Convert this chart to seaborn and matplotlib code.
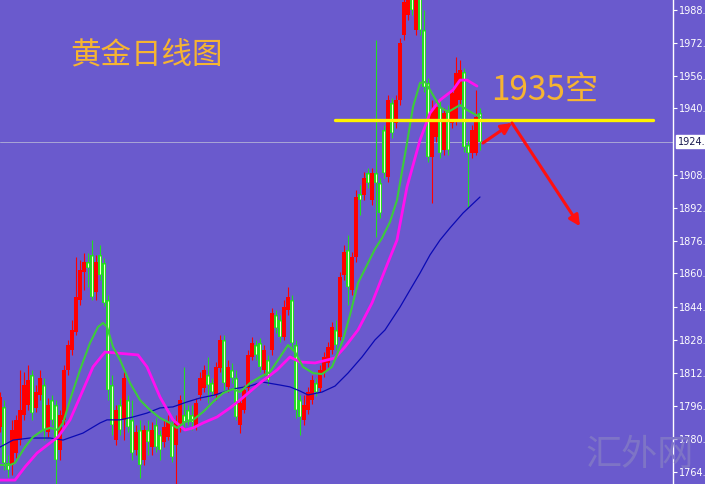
import matplotlib
matplotlib.use('Agg')
import matplotlib.pyplot as plt
import seaborn as sns
import numpy as np

# daily gold candles, oldest to newest
opens = [1786.0, 1795.6, 1768.5, 1767.5, 1773.3, 1779.6, 1791.8, 1796.6, 1811.2, 1795.2,
         1801.5, 1806.3, 1783.5, 1799.0, 1796.6, 1774.8, 1789.4, 1813.6, 1823.3, 1832.0,
         1847.5, 1861.1, 1866.0, 1869.4, 1851.4, 1869.4, 1865.5, 1847.5, 1806.3, 1779.6,
         1796.6, 1789.4, 1799.0, 1789.4, 1774.8, 1784.5, 1769.9, 1784.5, 1776.2, 1786.9,
         1782.1, 1778.7, 1781.1, 1786.9, 1777.2, 1786.0, 1791.8, 1794.2, 1791.8, 1786.0,
         1801.5, 1804.9, 1811.2, 1807.3, 1801.5, 1814.6, 1828.2, 1805.4, 1813.6, 1809.7,
         1786.9, 1794.2, 1804.9, 1819.9, 1825.7, 1826.7, 1813.6, 1818.5, 1823.3, 1840.3,
         1837.9, 1829.6, 1842.7, 1847.5, 1825.7, 1799.0, 1789.4, 1794.2, 1799.0, 1807.3,
         1804.9, 1812.1, 1817.0, 1823.3, 1833.0, 1829.6, 1859.7, 1871.8, 1852.4, 1868.4,
         1898.9, 1898.5, 1909.1, 1896.0, 1909.1, 1904.3, 1930.0, 1907.2, 1943.1, 1933.4,
         1944.5, 1976.1, 1985.8, 2000.3, 1978.5, 1995.5, 1978.5, 1952.8, 1916.9, 1926.6,
         1941.2, 1920.3, 1939.7, 1933.4, 1934.8, 1944.5, 1958.1, 1922.7, 1918.8, 1918.8,
         1938.2]
closes = [1800.5, 1768.5, 1765.1, 1784.5, 1789.4, 1794.2, 1806.3, 1808.7, 1792.7, 1802.9,
          1809.7, 1784.5, 1796.6, 1789.4, 1769.9, 1791.8, 1813.6, 1825.7, 1833.0, 1849.0,
          1862.1, 1866.0, 1863.0, 1849.0, 1866.0, 1859.7, 1846.1, 1803.9, 1786.9, 1794.2,
          1784.5, 1809.7, 1786.0, 1773.3, 1783.5, 1767.5, 1784.5, 1778.7, 1784.5, 1776.2,
          1774.8, 1786.0, 1788.4, 1771.4, 1787.9, 1799.0, 1788.4, 1789.4, 1788.4, 1797.6,
          1809.7, 1813.6, 1806.3, 1802.9, 1815.1, 1828.2, 1807.3, 1815.1, 1809.7, 1790.8,
          1797.6, 1803.9, 1820.9, 1826.7, 1820.9, 1815.1, 1823.3, 1808.7, 1841.2, 1834.0,
          1829.6, 1844.1, 1849.0, 1826.7, 1794.2, 1790.8, 1796.6, 1802.9, 1808.7, 1802.9,
          1813.6, 1819.9, 1824.8, 1834.5, 1825.7, 1858.7, 1870.8, 1853.8, 1868.4, 1897.5,
          1896.0, 1906.7, 1904.3, 1909.1, 1904.3, 1889.7, 1909.1, 1944.5, 1928.6, 1944.5,
          1972.2, 1992.1, 2000.3, 1988.2, 1995.5, 1978.5, 1950.8, 1916.9, 1939.7, 1941.2,
          1918.8, 1938.2, 1920.3, 1947.9, 1957.6, 1959.1, 1921.8, 1918.8, 1930.0, 1936.3,
          1924.3]
highs = [1802.9, 1799.0, 1772.4, 1789.4, 1791.8, 1813.6, 1812.6, 1816.0, 1813.6, 1806.3,
         1813.6, 1809.7, 1800.0, 1801.5, 1799.0, 1794.2, 1816.0, 1828.2, 1837.9, 1868.4,
         1866.9, 1870.3, 1870.3, 1876.6, 1869.4, 1874.2, 1867.9, 1849.9, 1811.2, 1796.6,
         1800.0, 1812.6, 1801.5, 1799.0, 1786.9, 1789.4, 1786.9, 1789.4, 1788.4, 1790.3,
         1784.5, 1789.4, 1791.8, 1789.4, 1791.8, 1801.5, 1815.1, 1796.6, 1796.6, 1800.0,
         1812.6, 1816.0, 1819.9, 1809.7, 1817.5, 1830.6, 1830.6, 1818.5, 1817.0, 1813.6,
         1799.0, 1806.3, 1823.3, 1829.6, 1828.2, 1829.1, 1825.7, 1820.9, 1843.6, 1842.7,
         1840.3, 1847.5, 1853.8, 1849.9, 1828.2, 1801.5, 1801.5, 1805.4, 1811.2, 1809.7,
         1816.0, 1822.3, 1827.2, 1836.9, 1837.9, 1861.1, 1874.2, 1879.0, 1870.8, 1900.9,
         1903.3, 1909.6, 1911.5, 1911.5, 1973.6, 1906.7, 1932.4, 1947.0, 1945.5, 1947.0,
         1974.6, 2000.3, 2005.2, 2005.2, 2002.8, 2002.8, 1988.2, 1955.2, 1944.5, 1944.5,
         1944.5, 1940.7, 1942.1, 1950.4, 1965.4, 1964.0, 1960.1, 1925.1, 1932.4, 1949.4,
         1940.7]
lows = [1783.5, 1765.1, 1761.7, 1762.7, 1770.9, 1777.2, 1789.4, 1794.2, 1789.4, 1793.2,
        1799.0, 1779.6, 1781.1, 1786.9, 1758.3, 1769.9, 1786.9, 1811.2, 1820.9, 1830.6,
        1845.1, 1852.4, 1853.8, 1847.5, 1847.5, 1857.2, 1844.6, 1799.0, 1782.1, 1777.2,
        1782.1, 1779.6, 1783.5, 1769.9, 1772.4, 1761.2, 1767.5, 1772.4, 1772.4, 1773.8,
        1769.9, 1776.2, 1779.6, 1769.0, 1758.3, 1783.5, 1786.0, 1786.9, 1784.5, 1784.5,
        1799.0, 1802.9, 1797.6, 1800.5, 1799.0, 1812.6, 1803.9, 1802.9, 1807.3, 1789.4,
        1783.0, 1792.7, 1802.9, 1818.5, 1818.5, 1812.6, 1811.2, 1806.3, 1820.9, 1831.6,
        1827.2, 1828.2, 1840.3, 1824.8, 1790.3, 1782.1, 1786.9, 1792.3, 1797.1, 1801.0,
        1802.9, 1810.2, 1815.1, 1821.4, 1823.3, 1828.2, 1857.2, 1845.1, 1849.9, 1866.0,
        1888.8, 1896.0, 1901.9, 1893.6, 1878.1, 1887.3, 1906.7, 1904.8, 1926.1, 1931.0,
        1942.1, 1973.6, 1983.3, 1985.8, 1976.1, 1976.1, 1948.4, 1914.5, 1894.6, 1924.2,
        1916.4, 1917.9, 1917.9, 1931.0, 1932.4, 1942.1, 1919.3, 1892.7, 1916.4, 1917.9,
        1920.3]

# moving averages (bar index, price)
fast_idx = [0, 2.5, 3.75, 6.25, 8.25, 10.75, 12.5, 14.5, 15.75, 17.5, 20, 22.5, 24.5, 25.75,
            26.75, 28.25, 30, 32.5, 35, 37.5, 40, 42.5, 44.25, 46.25, 48.25, 50.75, 53.25,
            55.75, 58.25, 60, 62.5, 65, 67.5, 70, 72, 73.75, 75.75, 78.25, 80.5, 83, 85.75,
            87.5, 89.5, 91.75, 93.75, 95.5, 97.5, 99.25, 101.75, 103.25, 105, 106.25, 107.5,
            110, 112, 115, 116.75, 120]
fast_ma = [1767.5, 1767.5, 1768.5, 1776.2, 1781.1, 1784.5, 1785.5, 1784.5, 1787.9, 1799.0,
           1813.6, 1826.7, 1834.5, 1836.4, 1834.5, 1824.8, 1818.5, 1807.3, 1799.0, 1794.2,
           1790.3, 1787.9, 1785.5, 1788.4, 1789.4, 1793.2, 1798.1, 1802.4, 1804.4, 1802.9,
           1807.3, 1810.2, 1812.6, 1819.9, 1825.7, 1822.3, 1815.1, 1812.1, 1811.6, 1815.1,
           1828.2, 1840.3, 1855.8, 1864.5, 1872.3, 1877.6, 1885.4, 1896.0, 1923.7, 1941.2,
           1952.8, 1953.3, 1949.4, 1941.2, 1938.7, 1942.1, 1939.7, 1936.3]

mid_idx = [0, 3.75, 6.25, 9.25, 12.5, 14.5, 17.5, 20, 23.25, 26.25, 29.25, 34.5, 36.75, 40,
           43.25, 46.25, 48.25, 50.75, 54.25, 57.5, 60, 65, 69.25, 72.5, 75, 78.75, 83.75,
           86.25, 89.5, 93, 96.25, 99.25, 101.75, 105, 107.5, 110, 113.25, 115, 116.75, 119.25]
mid_ma = [1760.2, 1760.2, 1766.6, 1773.3, 1778.2, 1781.1, 1789.4, 1800.5, 1815.1, 1822.3,
          1821.8, 1820.9, 1815.1, 1800.5, 1789.4, 1784.5, 1785.5, 1787.9, 1790.8, 1795.2,
          1799.0, 1807.3, 1813.6, 1819.9, 1817.5, 1817.0, 1819.4, 1824.8, 1833.0, 1846.1,
          1862.1, 1876.6, 1902.4, 1925.1, 1938.2, 1944.5, 1949.4, 1954.2, 1954.2, 1951.3]

slow_idx = [0, 3.25, 7.5, 12.5, 15.75, 20.75, 25, 26.75, 30, 33.25, 36.75, 40, 43.25, 46.75,
            50, 53.75, 58.25, 62.5, 65.5, 70, 72.5, 75, 77, 80.5, 83.75, 87, 90.5, 93.75,
            96.25, 100, 102.5, 105, 107.5, 110, 112.5, 115.75, 120]
slow_ma = [1776.2, 1779.6, 1780.6, 1780.6, 1779.6, 1783.0, 1787.9, 1789.4, 1789.4, 1790.8,
           1792.7, 1795.2, 1795.7, 1798.1, 1800.0, 1801.5, 1804.4, 1805.8, 1807.8, 1806.3,
           1805.4, 1803.4, 1801.5, 1802.9, 1805.8, 1812.1, 1819.9, 1828.2, 1833.0, 1844.1,
           1852.4, 1860.6, 1869.4, 1876.6, 1882.5, 1889.7, 1897.5]

axis_ticks = [1988.2, 1972.4, 1956.2, 1940.5, 1908.1, 1892.3, 1876.1, 1860.4, 1844.2,
              1828.0, 1812.2, 1796.0, 1780.3, 1764.1]
last_price = 1924.3
short_level = 1935

BG = '#6A5ACD'
UP = '#FF0000'
DOWN = '#22DD22'

sns.set_style('dark')
plt.rcParams['font.family'] = ['Noto Sans CJK SC', 'DejaVu Sans']

fig = plt.figure(figsize=(7.05, 4.84), dpi=100, facecolor=BG)
ax = fig.add_axes([0, 0, 673 / 705, 1])
ax.set_facecolor(BG)

o = np.array(opens)
c = np.array(closes)
h = np.array(highs)
l = np.array(lows)
days = np.arange(len(o))
up = c >= o

# wicks
ax.vlines(days[up], l[up], h[up], color=UP, lw=0.8, zorder=2)
ax.vlines(days[~up], l[~up], h[~up], color=DOWN, lw=0.8, zorder=2)
# bodies: red filled, green with pale centre
ax.bar(days[up], c[up] - o[up], bottom=o[up], width=0.78, color=UP, lw=0, zorder=3)
ax.bar(days[~up], o[~up] - c[~up], bottom=c[~up], width=0.8, color=DOWN, lw=0, zorder=3)
ax.vlines(days[~up], c[~up] + 0.4, o[~up] - 0.4, color='#F2FFD6', lw=0.75, zorder=4)

# moving averages
sns.lineplot(x=slow_idx, y=slow_ma, ax=ax, color='#0A0AB4', lw=0.9, sort=False,
             estimator=None, legend=False, zorder=5)
sns.lineplot(x=mid_idx, y=mid_ma, ax=ax, color='#FF10F0', lw=2.0, sort=False,
             estimator=None, legend=False, zorder=6)
sns.lineplot(x=fast_idx, y=fast_ma, ax=ax, color='#3CCB3C', lw=1.5, sort=False,
             estimator=None, legend=False, zorder=7)

# current price line and the short level
ax.axhline(last_price, color='#A9A6D6', lw=0.7, zorder=1)
ax.hlines(short_level, 83.75, 163.25, color='#FFF200', lw=2.4, zorder=8, capstyle='round')

arrow = dict(arrowstyle='-|>', color='#FF1010', lw=2.2, mutation_scale=16,
             shrinkA=0, shrinkB=0)
ax.annotate('', xy=(128, 1933.4), xytext=(120.75, 1923.7), arrowprops=arrow, zorder=9)
ax.annotate('', xy=(145, 1883.3), xytext=(128, 1933.4), arrowprops=arrow, zorder=9)

ax.set_xlim(0, 673 / 4)
ax.set_ylim(1758.3, 1993.05)
ax.set_xticks([])
ax.set_yticks(axis_ticks)
ax.set_yticklabels([f'{t:.1f}' for t in axis_ticks], family='DejaVu Sans')
ax.yaxis.tick_right()
ax.tick_params(axis='y', colors='white', labelsize=7, length=3, width=0.8, pad=1.5)
for s in ['left', 'top', 'bottom']:
    ax.spines[s].set_visible(False)
ax.spines['right'].set_color('white')
ax.spines['right'].set_linewidth(1)
ax.grid(False)

ax.annotate(f'{last_price:.1f}', xy=(1, last_price), xycoords=('axes fraction', 'data'),
            xytext=(3.5, 0), textcoords='offset points', va='center', ha='left',
            fontsize=7, family='DejaVu Sans', color='#1A1A50', annotation_clip=False,
            bbox=dict(boxstyle='square,pad=0.15', fc='white', ec='white'))

fig.text(0.2085, 0.886, '黄金日线图', fontsize=22, color='#F6B431', ha='center', va='center')
fig.text(0.772, 0.814, '1935空', fontsize=24, color='#F6B431', ha='center', va='center')
fig.text(0.908, 0.06, '汇外网', fontsize=26, color='#7E74C6', ha='center', va='center')

fig.savefig('out.png', dpi=100, facecolor=BG)
